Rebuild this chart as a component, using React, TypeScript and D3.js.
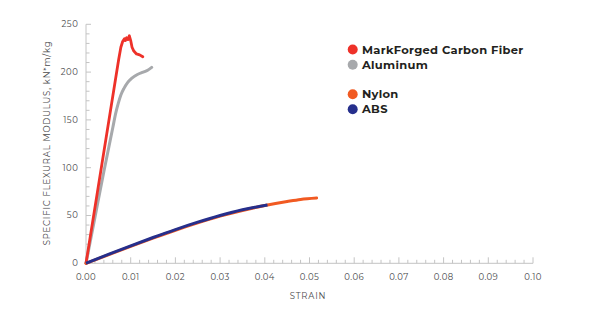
import React from "react";
import * as d3 from "d3";

const xTicks = [0, 0.01, 0.02, 0.03, 0.04, 0.05, 0.06, 0.07, 0.08, 0.09, 0.1];
const yTicks = [0, 50, 100, 150, 200, 250];

const carbonX = [0, 0.0073, 0.0078, 0.0082, 0.0086, 0.0088, 0.0091, 0.0094, 0.0097, 0.01, 0.0103, 0.0107, 0.0113, 0.012, 0.0127];
const carbonY = [0, 213, 226, 232, 235, 233, 236, 234, 238, 233, 226, 222, 219, 218, 216];

const aluX = [0, 0.002, 0.004, 0.006, 0.0066, 0.0072, 0.0078, 0.0085, 0.0093, 0.0102, 0.0115, 0.0128, 0.0138, 0.0147];
const aluY = [0, 48, 96, 142, 156, 167, 176, 183, 189, 193.5, 197.5, 200, 202, 205];

const nylonX = [0, 0.005, 0.01, 0.015, 0.02, 0.025, 0.03, 0.035, 0.04, 0.045, 0.048, 0.0516];
const nylonY = [0, 8.9, 17.7, 26.3, 34.6, 42.3, 49.3, 55.3, 60.4, 64.6, 66.8, 68.3];

const absX = [0, 0.005, 0.01, 0.015, 0.02, 0.025, 0.03, 0.035, 0.0406];
const absY = [0, 9.3, 18.3, 27, 35.3, 43, 50, 56, 61];

const legendNames = ["MarkForged Carbon Fiber", "Aluminum", "Nylon", "ABS"];
const colors = ["#ee3129", "#a7a9ac", "#f15a22", "#262f8c"];

export default function App() {
  const x = d3.scaleLinear().domain([0, 0.1]).range([86, 533]);
  const y = d3.scaleLinear().domain([0, 250]).range([263.3, 24.3]);
  const line = d3
    .line<[number, number]>()
    .x((d) => x(d[0]))
    .y((d) => y(d[1]));
  const smooth = d3
    .line<[number, number]>()
    .x((d) => x(d[0]))
    .y((d) => y(d[1]))
    .curve(d3.curveMonotoneX);
  const zip = (a: number[], b: number[]) => a.map((v, i) => [v, b[i]] as [number, number]);

  const xMinor = d3.range(0, 0.1001, 0.002);
  const yMinor = d3.range(0, 250.01, 10);
  const axisColor = "#c4c4c4";
  const textColor = "#4a4a4c";
  const font = "Montserrat, 'Open Sans', 'DejaVu Sans', sans-serif";
  const legendY = [49.5, 64.7, 94.3, 109.3];

  return (
    <svg
      width={600}
      height={330}
      style={{ position: "absolute", left: 0, top: 0, background: "#fff" }}
      fontFamily={font}
    >
      <rect width={600} height={330} fill="#fff" />
      <line x1={x(0)} x2={x(0)} y1={y(0)} y2={y(250)} stroke={axisColor} strokeWidth={1} />
      <line x1={x(0)} x2={x(0.1)} y1={y(0)} y2={y(0)} stroke={axisColor} strokeWidth={1} />
      {yMinor.map((v, i) => (
        <line key={"ym" + i} x1={x(0)} x2={x(0) + (v % 50 === 0 ? 5 : 3.5)} y1={y(v)} y2={y(v)} stroke={axisColor} strokeWidth={1} />
      ))}
      {xMinor.map((v, i) => (
        <line key={"xm" + i} x1={x(v)} x2={x(v)} y1={y(0)} y2={y(0) - (i % 5 === 0 ? 6 : 3.5)} stroke={axisColor} strokeWidth={1} />
      ))}
      {yTicks.map((v) => (
        <text key={"yt" + v} x={78.5} y={y(v)} dy="0.35em" textAnchor="end" fontSize={8.5} fill={textColor} letterSpacing={0.6}>
          {v}
        </text>
      ))}
      {xTicks.map((v) => (
        <text key={"xt" + v} x={x(v)} y={277} dy="0.35em" textAnchor="middle" fontSize={8.5} fill={textColor} letterSpacing={0.4}>
          {v.toFixed(2)}
        </text>
      ))}
      <text x={308} y={296} dy="0.35em" textAnchor="middle" fontSize={8.5} fill={textColor} letterSpacing={0.8}>
        STRAIN
      </text>
      <text
        transform={`translate(47.5,143) rotate(-90)`}
        dy="0.35em"
        textAnchor="middle"
        fontSize={8.5}
        fill={textColor}
        letterSpacing={0.8}
      >
        SPECIFIC FLEXURAL MODULUS, kN*m/kg
      </text>
      <path d={smooth(zip(aluX, aluY)) || ""} fill="none" stroke={colors[1]} strokeWidth={3} strokeLinecap="round" strokeLinejoin="round" />
      <path d={line(zip(carbonX, carbonY)) || ""} fill="none" stroke={colors[0]} strokeWidth={2.8} strokeLinecap="round" strokeLinejoin="round" />
      <path d={smooth(zip(nylonX, nylonY)) || ""} fill="none" stroke={colors[2]} strokeWidth={3} strokeLinecap="round" strokeLinejoin="round" />
      <path d={smooth(zip(absX, absY)) || ""} fill="none" stroke={colors[3]} strokeWidth={3} strokeLinecap="butt" strokeLinejoin="round" />
      {legendNames.map((n, i) => (
        <g key={n}>
          <circle cx={352.7} cy={legendY[i]} r={5} fill={colors[i]} />
          <text x={362} y={legendY[i]} dy="0.35em" fontSize={11.5} fontWeight={700} fill="#231f20" letterSpacing={0.3}>
            {n}
          </text>
        </g>
      ))}
    </svg>
  );
}
